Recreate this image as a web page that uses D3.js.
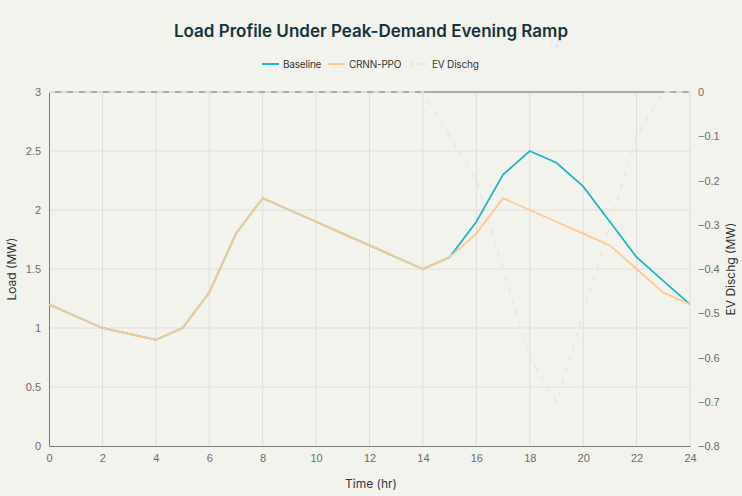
<!DOCTYPE html>
<html>
<head>
<meta charset="utf-8">
<script src="https://cdn.jsdelivr.net/npm/d3@7"></script>
<style>
  body { margin: 0; background: #f3f3ee; }
  svg { display: block; font-family: Inter, "Liberation Sans", sans-serif; }
</style>
</head>
<body>
<svg id="chart" width="742" height="496"></svg>
<script>
// chart data
var hours = [0, 1, 2, 3, 4, 5, 6, 7, 8, 9, 10, 11, 12, 13, 14, 15, 16, 17, 18, 19, 20, 21, 22, 23, 24];
var baseline = [1.2, 1.1, 1.0, 0.95, 0.9, 1.0, 1.3, 1.8, 2.1, 2.0, 1.9, 1.8, 1.7, 1.6, 1.5, 1.6, 1.9, 2.3, 2.5, 2.4, 2.2, 1.9, 1.6, 1.4, 1.2];
var crnnPpo = [1.2, 1.1, 1.0, 0.95, 0.9, 1.0, 1.3, 1.8, 2.1, 2.0, 1.9, 1.8, 1.7, 1.6, 1.5, 1.6, 1.8, 2.1, 2.0, 1.9, 1.8, 1.7, 1.5, 1.3, 1.2];
var evDischg = [0, 0, 0, 0, 0, 0, 0, 0, 0, 0, 0, 0, 0, 0, 0, -0.1, -0.2, -0.4, -0.6, -0.7, -0.5, -0.3, -0.1, 0, 0];

var xTicks = d3.range(0, 25, 2);
var yTicks = [0, 0.5, 1, 1.5, 2, 2.5, 3];
var y2Ticks = [0, -0.1, -0.2, -0.3, -0.4, -0.5, -0.6, -0.7, -0.8];

var margin = { left: 49, right: 52, top: 92, bottom: 50 };
var W = 742, H = 496;

var svg = d3.select("#chart");

var x = d3.scaleLinear().domain([0, 24]).range([margin.left, W - margin.right]);
var y = d3.scaleLinear().domain([0, 3]).range([H - margin.bottom, margin.top]);
var y2 = d3.scaleLinear().domain([-0.8, 0]).range([H - margin.bottom, margin.top]);

var fmt = function(d) { return String(d).replace("-", "\u2212"); };

// grid
var grid = svg.append("g").attr("class", "grid");
grid.selectAll("line.v")
    .data(xTicks.slice(1))
    .enter().append("line")
    .attr("x1", function(d) { return x(d); })
    .attr("x2", function(d) { return x(d); })
    .attr("y1", y(0)).attr("y2", y(3))
    .attr("stroke", "#dfddd7").attr("stroke-width", 1);
grid.selectAll("line.h")
    .data(yTicks.slice(1))
    .enter().append("line")
    .attr("x1", x(0)).attr("x2", x(24))
    .attr("y1", function(d) { return y(d); })
    .attr("y2", function(d) { return y(d); })
    .attr("stroke", "#dfddd7").attr("stroke-width", 1);

// axes
var xAxis = svg.append("g")
    .attr("transform", "translate(0," + y(0) + ")")
    .call(d3.axisBottom(x).tickValues(xTicks).tickSize(0).tickPadding(8));
var yAxis = svg.append("g")
    .attr("transform", "translate(" + x(0) + ",0)")
    .call(d3.axisLeft(y).tickValues(yTicks).tickSize(0).tickPadding(8).tickFormat(fmt));
var y2Axis = svg.append("g")
    .attr("transform", "translate(" + x(24) + ",0)")
    .call(d3.axisRight(y2).tickValues(y2Ticks).tickSize(0).tickPadding(8).tickFormat(fmt));

[xAxis, yAxis, y2Axis].forEach(function(a) {
    a.selectAll("text").attr("fill", "#6b6b6b").style("font-size", "11px");
    a.select(".domain").attr("stroke", "#7a7a7a");
});
y2Axis.select(".domain").remove();

// zero line of the right axis (sits on top edge)
svg.append("line")
    .attr("x1", x(0)).attr("x2", x(24))
    .attr("y1", y2(0)).attr("y2", y2(0))
    .attr("stroke", "#6e6e6e").attr("stroke-width", 1.2);

// series
var lineLoad = function(vals) {
    return d3.line()
        .x(function(d, i) { return x(hours[i]); })
        .y(function(d) { return y(d); })(vals);
};

svg.append("path")
    .attr("d", d3.line()
        .x(function(d, i) { return x(hours[i]); })
        .y(function(d) { return y2(d); })(evDischg))
    .attr("fill", "none")
    .attr("stroke", "#eae9d8")
    .attr("stroke-width", 1.6)
    .attr("stroke-dasharray", "6,6");

svg.append("path")
    .attr("d", lineLoad(baseline))
    .attr("fill", "none")
    .attr("stroke", "#21b5c8")
    .attr("stroke-width", 1.8);

svg.append("path")
    .attr("d", lineLoad(crnnPpo))
    .attr("fill", "none")
    .attr("stroke", "#ffc88f")
    .attr("stroke-width", 1.8);

// title
svg.append("text")
    .attr("x", 371).attr("y", 37)
    .attr("text-anchor", "middle")
    .attr("fill", "#13343b")
    .style("font-size", "17px")
    .style("font-weight", 600)
    .text("Load Profile Under Peak-Demand Evening Ramp");

// axis titles
svg.append("text")
    .attr("x", 371).attr("y", 488)
    .attr("text-anchor", "middle")
    .attr("fill", "#333")
    .style("font-size", "12px")
    .text("Time (hr)");
svg.append("text")
    .attr("transform", "translate(16," + (y(1.5)) + ") rotate(-90)")
    .attr("text-anchor", "middle")
    .attr("fill", "#333")
    .style("font-size", "12px")
    .text("Load (MW)");
svg.append("text")
    .attr("transform", "translate(735," + (y(1.5)) + ") rotate(-90)")
    .attr("text-anchor", "middle")
    .attr("fill", "#333")
    .style("font-size", "12px")
    .text("EV Dischg (MW)");

// legend
var legendItems = [
    { name: "Baseline", color: "#21b5c8", dash: null, x: 262 },
    { name: "CRNN-PPO", color: "#ffc88f", dash: null, x: 328 },
    { name: "EV Dischg", color: "#e6e5d3", dash: "3,3", x: 411 }
];
var legend = svg.append("g").selectAll("g")
    .data(legendItems)
    .enter().append("g")
    .attr("transform", function(d) { return "translate(" + d.x + ",64)"; });
legend.append("line")
    .attr("x1", 0).attr("x2", 17)
    .attr("stroke", function(d) { return d.color; })
    .attr("stroke-width", 2)
    .attr("stroke-dasharray", function(d) { return d.dash; });
legend.append("text")
    .attr("x", function(d) { return d.dash ? 21 : 21; })
    .attr("y", 3.5)
    .attr("fill", "#333")
    .style("font-size", "10px")
    .style("letter-spacing", "-0.2px")
    .text(function(d) { return d.name; });
</script>
</body>
</html>
